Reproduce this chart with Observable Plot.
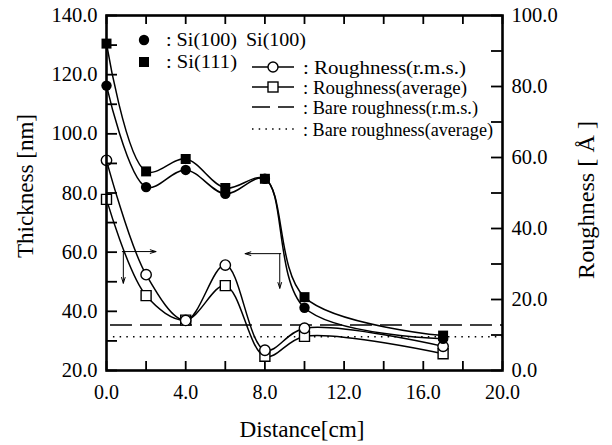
<!DOCTYPE html>
<html><head><meta charset="utf-8">
<script src="https://cdn.jsdelivr.net/npm/d3@7"></script>
<script src="https://cdn.jsdelivr.net/npm/@observablehq/plot@0.6"></script>
<style>
body{margin:0;background:#fff}
#chart{position:relative;width:612px;height:445px}
</style>
</head><body><div id="chart"></div>
<script>
// ---- data ----
const distance = [0, 2, 4, 6, 8, 10, 17];                 // cm
const thicknessSi100 = [116.3, 82.0, 87.8, 79.7, 84.8, 41.2, 30.7]; // nm
const thicknessSi111 = [130.5, 87.3, 91.5, 81.7, 84.8, 44.8, 31.8]; // nm
const roughnessRms = [59.2, 27.0, 14.1, 29.7, 5.7, 11.9, 6.8];      // Å
const roughnessAvg = [48.2, 21.1, 14.2, 23.9, 4.0, 9.6, 4.7];       // Å
const bareRoughness = [{name: "rms", value: 12.8, from: 0.2}, {name: "average", value: 9.5, from: 0.35}];

const xTickLabels = [0, 4, 8, 12, 16, 20];
const xTicks = [0, 2, 4, 6, 8, 10, 12, 14, 16, 18, 20];
const leftTickLabels = [20, 40, 60, 80, 100, 120, 140];
const leftTicks = [20, 30, 40, 50, 60, 70, 80, 90, 100, 110, 120, 130, 140];
const rightTickLabels = [0, 20, 40, 60, 80, 100];
const rightTicks = [0, 10, 20, 30, 40, 50, 60, 70, 80, 90, 100];

// annotation arrows (distance, thickness units)
const arrows = [
  {x1: 0.8, y1: 60.2, x2: 2.5, y2: 60.2},
  {x1: 0.85, y1: 60.2, x2: 0.85, y2: 49.5},
  {x1: 8.8, y1: 59.5, x2: 7.0, y2: 59.5},
  {x1: 8.75, y1: 59.5, x2: 8.75, y2: 47.8}
];

// roughness (0..100 Å) maps onto thickness axis (20..140 nm)
const toLeft = r => 20 + r * 1.2;
const fromLeft = t => (t - 20) / 1.2;

const rows = (ys, conv = v => v) => distance.map((d, i) => ({x: d, y: conv(ys[i])}));
const si100 = rows(thicknessSi100);
const si111 = rows(thicknessSi111);
const rms = rows(roughnessRms, toLeft);
const avg = rows(roughnessAvg, toLeft);

const curve = "catmull-rom";
const font = "Liberation Serif";
const tk = {stroke: "black", strokeWidth: 1.8};

const chart = Plot.plot({
  width: 612, height: 445,
  marginLeft: 106, marginRight: 110, marginTop: 15, marginBottom: 75,
  x: {domain: [0, 20], label: null},
  y: {domain: [20, 140], label: null},
  style: {fontFamily: font, fontSize: "20px", color: "black", background: "white"},
  marks: [
    Plot.ruleY(bareRoughness.filter(d => d.name === "rms"), {y: d => toLeft(d.value), x1: d => d.from, x2: 20, stroke: "black", strokeWidth: 1.4, strokeDasharray: "22,8"}),
    Plot.ruleY(bareRoughness.filter(d => d.name === "average"), {y: d => toLeft(d.value), x1: d => d.from, x2: 20, stroke: "black", strokeWidth: 1.6, strokeDasharray: "1.5,5.2"}),
    Plot.line(si100, {x: "x", y: "y", curve, stroke: "black", strokeWidth: 1.5}),
    Plot.line(si111, {x: "x", y: "y", curve, stroke: "black", strokeWidth: 1.5}),
    Plot.line(rms, {x: "x", y: "y", curve, stroke: "black", strokeWidth: 1.5}),
    Plot.line(avg, {x: "x", y: "y", curve, stroke: "black", strokeWidth: 1.5}),
    Plot.arrow(arrows, {x1: "x1", y1: "y1", x2: "x2", y2: "y2", stroke: "black", strokeWidth: 1, headLength: 9, headAngle: 35}),
    Plot.dot(avg, {x: "x", y: "y", symbol: "square", r: 5.64, fill: "white", stroke: "black", strokeWidth: 1.4}),
    Plot.dot(rms, {x: "x", y: "y", symbol: "circle", r: 5.2, fill: "white", stroke: "black", strokeWidth: 1.4}),
    Plot.dot(si100, {x: "x", y: "y", symbol: "circle", r: 5.2, fill: "black", stroke: "none"}),
    Plot.dot(si111, {x: "x", y: "y", symbol: "square", r: 5.64, fill: "black", stroke: "none"}),
    Plot.axisX(xTickLabels, {anchor: "bottom", tickSize: 0, tickPadding: 14, tickFormat: d => d.toFixed(1), label: null, fontSize: 20}),
    Plot.axisY(leftTickLabels, {anchor: "left", tickSize: 0, tickPadding: 9, tickFormat: d => d.toFixed(1), label: null, fontSize: 20.5}),
    Plot.axisY(rightTickLabels.map(toLeft), {anchor: "right", tickSize: 0, tickPadding: 9, tickFormat: d => fromLeft(d).toFixed(1), label: null, fontSize: 20.5}),
    Plot.frame({stroke: "black", strokeWidth: 2.6}),
    // inward ticks on all four sides (zero-length rules extended by insets), drawn above the frame
    Plot.ruleX(xTicks, {x: d => d, y1: 20, y2: 20, insetTop: 0, insetBottom: 9, ...tk}),
    Plot.ruleX(xTicks, {x: d => d, y1: 140, y2: 140, insetTop: 0, insetBottom: -9, ...tk}),
    Plot.ruleY(leftTicks, {y: d => d, x1: 0, x2: 0, insetLeft: 0, insetRight: -11, ...tk}),
    Plot.ruleY(rightTicks, {y: d => toLeft(d), x1: 20, x2: 20, insetLeft: 0, insetRight: 11, ...tk})
  ]
});
document.getElementById("chart").appendChild(chart);

// ---- titles & legend ----
const svg = d3.select(chart);
const T = (x, y, txt, size, len, rot) => {
  const t = svg.append("text").attr("x", x).attr("y", y).attr("font-family", font)
    .attr("font-size", size).attr("fill", "#000").attr("text-anchor", "middle")
    .attr("textLength", len).attr("lengthAdjust", "spacingAndGlyphs").text(txt);
  if (rot) t.attr("transform", `rotate(-90 ${x} ${y})`);
  return t;
};
T(33, 186, "Thickness [nm]", 23, 144, true);
T(594, 200, "Roughness [ Å ]", 23, 158, true);
T(302, 437, "Distance[cm]", 23, 125);

const lg = svg.append("g").attr("text-anchor", "start");
const LS = 19;
lg.append("circle").attr("cx", 144).attr("cy", 40).attr("r", 5.2).attr("fill", "black");
lg.append("rect").attr("x", 139).attr("y", 57).attr("width", 10).attr("height", 10).attr("fill", "black");
const legendText = [
  [166, 46, ": Si(100)", 71], [166, 68, ": Si(111)", 71], [246, 46, "Si(100)", 60],
  [303, 74, ": Roughness(r.m.s.)", 163], [303, 94, ": Roughness(average)", 164],
  [303, 114, ": Bare roughness(r.m.s.)", 175], [303, 136, ": Bare roughness(average)", 190]
];
legendText.forEach(([x, y, s, len]) => lg.append("text").attr("x", x).attr("y", y).attr("font-family", font)
  .attr("font-size", LS).attr("fill", "#000").attr("text-anchor", "start")
  .attr("textLength", len).attr("lengthAdjust", "spacingAndGlyphs").text(s));
const ln = (y, dash) => lg.append("line").attr("x1", 252).attr("x2", 294).attr("y1", y).attr("y2", y)
  .attr("stroke", "black").attr("stroke-width", dash === "dot" ? 1.6 : 1.5).attr("stroke-dasharray", dash === "dash" ? "18,8" : dash === "dot" ? "1.5,5.2" : null);
ln(67); ln(87); ln(107, "dash"); ln(129, "dot");
lg.append("circle").attr("cx", 273).attr("cy", 67).attr("r", 5).attr("fill", "white").attr("stroke", "black").attr("stroke-width", 1.4);
lg.append("rect").attr("x", 268).attr("y", 82).attr("width", 10).attr("height", 10).attr("fill", "white").attr("stroke", "black").attr("stroke-width", 1.4);
</script>
</body></html>
